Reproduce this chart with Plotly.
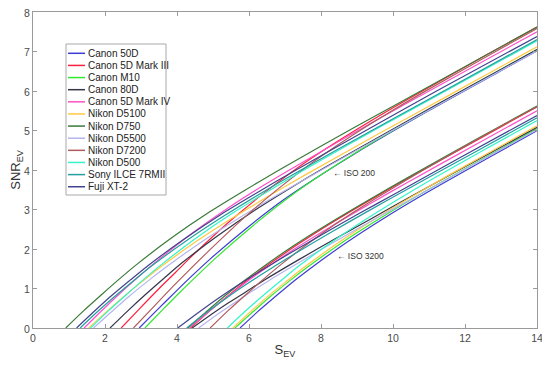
import plotly.graph_objects as go

# ---- data (S_EV, SNR_EV) ----
cameras = ["Canon 50D", "Canon 5D Mark III", "Canon M10", "Canon 80D", "Canon 5D Mark IV",
           "Nikon D5100", "Nikon D750", "Nikon D5500", "Nikon D7200", "Nikon D500",
           "Sony ILCE 7RMII", "Fuji XT-2"]
colors = ["#3c3cd2", "#ff1f3f", "#33e833", "#353548", "#ff50c8",
          "#ffc840", "#3a7a3a", "#b4b4f0", "#b05c5c", "#33f5c8",
          "#23a0a0", "#42428e"]

# ISO 200
c50d_x200 = [2.95, 3.45, 3.95, 4.45, 4.95, 5.95, 6.95, 7.95, 8.95, 10.95, 12.95, 14]
c50d_y200 = [0, 0.46, 0.91, 1.35, 1.77, 2.54, 3.24, 3.85, 4.42, 5.48, 6.49, 7.02]
c5d3_x200 = [2.45, 2.95, 3.45, 3.95, 4.45, 5.45, 6.45, 7.45, 8.45, 9.45, 10.45, 12.45, 14]
c5d3_y200 = [0, 0.48, 0.95, 1.40, 1.85, 2.69, 3.44, 4.12, 4.72, 5.28, 5.81, 6.84, 7.62]
m10_x200 = [3.11, 3.61, 4.11, 4.61, 5.11, 6.11, 7.11, 8.11, 9.11, 11.11, 13.11, 14]
m10_y200 = [0, 0.47, 0.93, 1.37, 1.80, 2.59, 3.31, 3.94, 4.52, 5.58, 6.60, 7.05]
c80d_x200 = [2.14, 2.64, 3.14, 3.64, 4.14, 5.14, 6.14, 7.14, 8.14, 10.14, 12.14, 14]
c80d_y200 = [0, 0.44, 0.86, 1.26, 1.65, 2.34, 2.97, 3.54, 4.08, 5.11, 6.12, 7.05]
c5d4_x200 = [1.42, 1.92, 2.42, 2.92, 3.42, 4.42, 5.42, 6.42, 7.42, 9.42, 11.42, 14]
c5d4_y200 = [0, 0.45, 0.88, 1.29, 1.68, 2.40, 3.04, 3.62, 4.16, 5.20, 6.21, 7.50]
d5100_x200 = [1.55, 2.05, 2.55, 3.05, 3.55, 4.55, 5.55, 6.55, 7.55, 9.55, 11.55, 14]
d5100_y200 = [0, 0.42, 0.82, 1.19, 1.55, 2.20, 2.79, 3.34, 3.87, 4.89, 5.89, 7.12]
d750_x200 = [0.91, 1.41, 1.91, 2.41, 2.91, 3.91, 4.91, 5.91, 6.91, 8.91, 10.91, 14]
d750_y200 = [0, 0.44, 0.85, 1.25, 1.63, 2.32, 2.94, 3.50, 4.04, 5.07, 6.07, 7.62]
d5500_x200 = [1.68, 2.18, 2.68, 3.18, 3.68, 4.68, 5.68, 6.68, 7.68, 9.68, 11.68, 14]
d5500_y200 = [0, 0.41, 0.81, 1.18, 1.53, 2.18, 2.76, 3.31, 3.83, 4.85, 5.86, 7.02]
d7200_x200 = [2.79, 3.29, 3.79, 4.29, 4.79, 5.79, 6.79, 7.79, 8.79, 9.79, 10.79, 12.79, 14]
d7200_y200 = [0, 0.48, 0.96, 1.42, 1.87, 2.73, 3.51, 4.21, 4.83, 5.40, 5.94, 6.97, 7.58]
d500_x200 = [1.6, 2.1, 2.6, 3.1, 3.6, 4.6, 5.6, 6.6, 7.6, 9.6, 11.6, 14]
d500_y200 = [0, 0.44, 0.85, 1.25, 1.63, 2.32, 2.94, 3.50, 4.04, 5.07, 6.07, 7.27]
sony_x200 = [1.31, 1.81, 2.31, 2.81, 3.31, 4.31, 5.31, 6.31, 7.31, 9.31, 11.31, 14]
sony_y200 = [0, 0.43, 0.83, 1.21, 1.58, 2.24, 2.84, 3.40, 3.93, 4.95, 5.95, 7.30]
fuji_x200 = [1.21, 1.71, 2.21, 2.71, 3.21, 4.21, 5.21, 6.21, 7.21, 9.21, 11.21, 14]
fuji_y200 = [0, 0.43, 0.84, 1.22, 1.59, 2.26, 2.87, 3.42, 3.95, 4.98, 6.00, 7.38]

# ISO 3200
c50d_x3200 = [5.75, 6.25, 6.75, 7.25, 7.75, 8.75, 9.75, 10.75, 11.75, 13.75, 14]
c50d_y3200 = [0, 0.42, 0.81, 1.19, 1.54, 2.19, 2.78, 3.33, 3.85, 4.87, 5.00]
c5d3_x3200 = [4.38, 4.88, 5.38, 5.88, 6.38, 7.38, 8.38, 9.38, 10.38, 12.38, 14]
c5d3_y3200 = [0, 0.41, 0.79, 1.16, 1.50, 2.13, 2.71, 3.25, 3.77, 4.78, 5.60]
m10_x3200 = [5.61, 6.11, 6.61, 7.11, 7.61, 8.61, 9.61, 10.61, 11.61, 13.61, 14]
m10_y3200 = [0, 0.41, 0.81, 1.18, 1.53, 2.18, 2.76, 3.31, 3.83, 4.85, 5.05]
c80d_x3200 = [4.42, 4.92, 5.42, 5.92, 6.42, 7.42, 8.42, 9.42, 10.42, 12.42, 14]
c80d_y3200 = [0, 0.32, 0.63, 0.92, 1.21, 1.75, 2.27, 2.78, 3.29, 4.29, 5.08]
c5d4_x3200 = [4.35, 4.85, 5.35, 5.85, 6.35, 7.35, 8.35, 9.35, 10.35, 12.35, 14]
c5d4_y3200 = [0, 0.39, 0.76, 1.11, 1.44, 2.05, 2.61, 3.14, 3.66, 4.67, 5.50]
d5100_x3200 = [5.55, 6.05, 6.55, 7.05, 7.55, 8.55, 9.55, 10.55, 11.55, 13.55, 14]
d5100_y3200 = [0, 0.42, 0.82, 1.19, 1.55, 2.20, 2.79, 3.34, 3.87, 4.89, 5.12]
d750_x3200 = [4.3, 4.8, 5.3, 5.8, 6.3, 7.3, 8.3, 9.3, 10.3, 12.3, 14]
d750_y3200 = [0, 0.40, 0.79, 1.15, 1.49, 2.12, 2.69, 3.23, 3.75, 4.77, 5.62]
d5500_x3200 = [4.6, 5.1, 5.6, 6.1, 6.6, 7.6, 8.6, 9.6, 10.6, 12.6, 14]
d5500_y3200 = [0, 0.33, 0.64, 0.94, 1.23, 1.77, 2.30, 2.81, 3.31, 4.32, 5.02]
d7200_x3200 = [4.92, 5.42, 5.92, 6.42, 6.92, 7.92, 8.92, 9.92, 10.92, 12.92, 14]
d7200_y3200 = [0, 0.44, 0.85, 1.25, 1.63, 2.32, 2.94, 3.50, 4.04, 5.07, 5.60]
d500_x3200 = [5.4, 5.9, 6.4, 6.9, 7.4, 8.4, 9.4, 10.4, 11.4, 13.4, 14]
d500_y3200 = [0, 0.43, 0.83, 1.21, 1.58, 2.24, 2.84, 3.40, 3.93, 4.95, 5.25]
sony_x3200 = [4.27, 4.77, 5.27, 5.77, 6.27, 7.27, 8.27, 9.27, 10.27, 12.27, 14]
sony_y3200 = [0, 0.36, 0.69, 1.01, 1.31, 1.88, 2.42, 2.94, 3.45, 4.45, 5.32]
fuji_x3200 = [4.02, 4.52, 5.02, 5.52, 6.02, 7.02, 8.02, 9.02, 10.02, 12.02, 14]
fuji_y3200 = [0, 0.34, 0.67, 0.98, 1.27, 1.83, 2.36, 2.88, 3.38, 4.39, 5.38]

x_ticks = [0, 2, 4, 6, 8, 10, 12, 14]
y_ticks = [0, 1, 2, 3, 4, 5, 6, 7, 8]

series = [
    (c50d_x200, c50d_y200, c50d_x3200, c50d_y3200),
    (c5d3_x200, c5d3_y200, c5d3_x3200, c5d3_y3200),
    (m10_x200, m10_y200, m10_x3200, m10_y3200),
    (c80d_x200, c80d_y200, c80d_x3200, c80d_y3200),
    (c5d4_x200, c5d4_y200, c5d4_x3200, c5d4_y3200),
    (d5100_x200, d5100_y200, d5100_x3200, d5100_y3200),
    (d750_x200, d750_y200, d750_x3200, d750_y3200),
    (d5500_x200, d5500_y200, d5500_x3200, d5500_y3200),
    (d7200_x200, d7200_y200, d7200_x3200, d7200_y3200),
    (d500_x200, d500_y200, d500_x3200, d500_y3200),
    (sony_x200, sony_y200, sony_x3200, sony_y3200),
    (fuji_x200, fuji_y200, fuji_x3200, fuji_y3200),
]

fig = go.Figure()
for name, col, (xa, ya, xb, yb) in zip(cameras, colors, series):
    for xs, ys in ((xa, ya), (xb, yb)):
        fig.add_trace(go.Scatter(x=xs, y=ys, mode="lines", name=name, legendgroup=name,
                                 showlegend=False, hoverinfo="name+x+y",
                                 line=dict(color=col, width=1.2, shape="spline", smoothing=0.8)))

# The page body has an 8 px margin, so the figure is sized/offset to compensate.
OFF = 8
W, H = 550 - OFF, 367 - OFF
ML, MR, MT, MB = 33 - OFF, 13, 12 - OFF, 39
pw, ph = W - ML - MR, H - MT - MB


def px_x(px):  # window pixel -> paper x
    return (px - OFF - ML) / pw


def px_y(py):  # window pixel -> paper y
    return (OFF + H - MB - py) / ph


shapes = [dict(type="rect", xref="paper", yref="paper",
               x0=px_x(66), x1=px_x(166), y0=px_y(195), y1=px_y(44),
               line=dict(color="#a8a8a8", width=1), fillcolor="white", layer="above")]
annotations = []
row0, step = 53.3, 12.13
for i, (name, col) in enumerate(zip(cameras, colors)):
    py = row0 + i * step
    shapes.append(dict(type="line", xref="paper", yref="paper",
                       x0=px_x(68), x1=px_x(85), y0=px_y(py), y1=px_y(py),
                       line=dict(color=col, width=1.5), layer="above"))
    annotations.append(dict(x=px_x(86), y=px_y(py), xref="paper", yref="paper",
                            text=name, showarrow=False, xanchor="left", yanchor="middle",
                            font=dict(size=10, color="#222222")))

annotations += [
    dict(x=8.28, y=3.92, xref="x", yref="y", text="\u2190 ISO 200", showarrow=False,
         xanchor="left", yanchor="middle", font=dict(size=8.5, color="#333333")),
    dict(x=8.39, y=1.82, xref="x", yref="y", text="\u2190 ISO 3200", showarrow=False,
         xanchor="left", yanchor="middle", font=dict(size=8.5, color="#333333")),
]

axis_common = dict(showgrid=False, zeroline=False, showline=True, linecolor="#9a9a9a",
                   linewidth=1, mirror="ticks", ticks="inside", ticklen=4, tickcolor="#9a9a9a",
                   automargin=False, ticklabeloverflow="allow",
                   tickfont=dict(family="Arial, Liberation Sans, sans-serif", size=10.5, color="#4a4a4a"))

fig.update_layout(
    width=W, height=H,
    margin=dict(l=ML, r=MR, t=MT, b=MB),
    paper_bgcolor="white", plot_bgcolor="white",
    font=dict(family="Arial, Liberation Sans, sans-serif", color="#333333"),
    xaxis=dict(range=[0, 14], tickvals=x_ticks,
               title=dict(text="S<sub>EV</sub>", font=dict(size=13, color="#333333"), standoff=2),
               **axis_common),
    yaxis=dict(range=[0, 8], tickvals=y_ticks, ticklabelshift=1,
               title=dict(text="SNR<sub>EV</sub>", font=dict(size=13, color="#333333"), standoff=0),
               **axis_common),
    showlegend=False,
    shapes=shapes,
    annotations=annotations,
)

fig.write_html("out.html")
